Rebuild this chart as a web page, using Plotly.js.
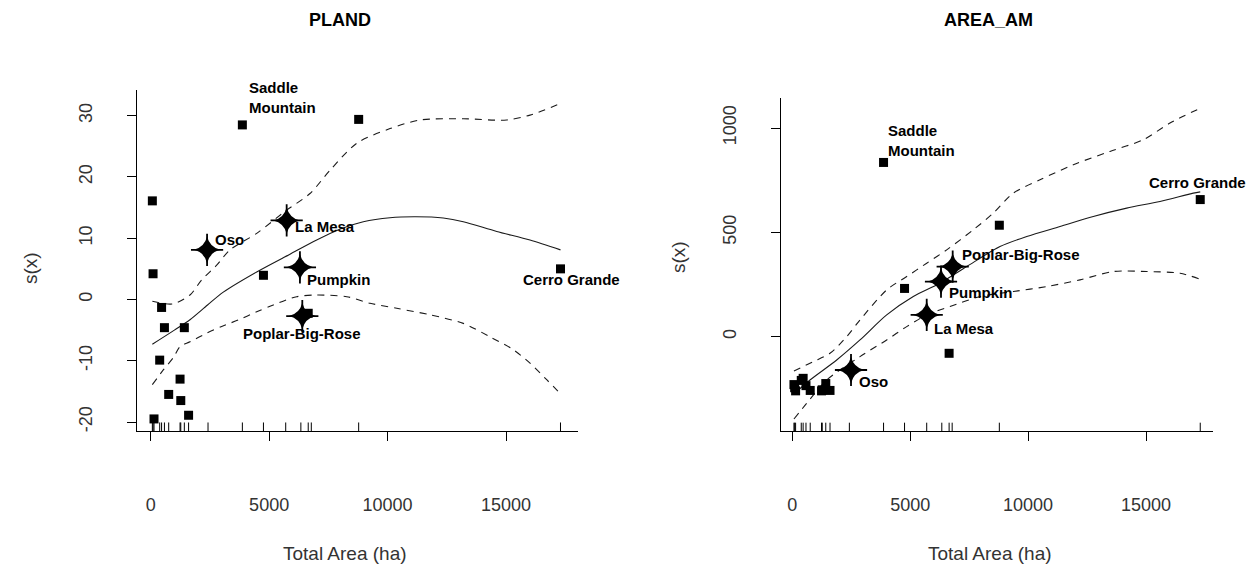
<!DOCTYPE html>
<html>
<head>
<meta charset="utf-8">
<script src="https://cdn.plot.ly/plotly-3.0.1.min.js"></script>
<style>html,body{margin:0;padding:0;background:#fff;}#chart{width:1258px;height:571px;}</style>
</head>
<body>
<div id="chart"></div>
<script>
// ---------- DATA ----------
// Total area (ha) of every site (used for squares and the rug)
const siteArea = [70, 100, 140, 380, 460, 580, 760, 1240, 1270, 1420, 1600, 3870, 4760, 6650, 8780, 17300];
const siteLabel = ["", "", "", "", "", "", "", "", "", "", "", "Saddle<br>Mountain", "", "", "", "Cerro Grande"];
const plandSite = [16.1, 4.2, -19.5, -9.9, -1.3, -4.6, -15.5, -13.0, -16.5, -4.6, -18.9, 28.5, 3.95, -2.25, 29.4, 5.0];
const areaamSite = [-230, -245, -260, -210, -200, -235, -258, -260, -255, -225, -258, 835, 231, -80, 534, 657];

// Focal sites (stars)
const focalLabel = ["Oso", "La Mesa", "Pumpkin", "Poplar-Big-Rose"];
const focalAreaRug = [2420, 5700, 6340, 6780];
const plandFocalX = [2380, 5740, 6300, 6400];
const plandFocalY = [8.1, 12.9, 5.25, -2.7];
const areaamFocalX = [2490, 5700, 6306, 6802];
const areaamFocalY = [-160, 104, 264, 336];

// PLAND smooth fit and bands
const plandFitX = [70, 1000, 1659, 2400, 3065, 4475, 5881, 7008, 8000, 8976, 10103, 11200, 12353, 13197, 14607, 16013, 17300];
const plandFitY = [-7.3, -5.0, -3.3, -0.9, 1.2, 4.5, 7.4, 9.7, 11.5, 12.7, 13.35, 13.5, 13.3, 12.7, 11.1, 9.7, 8.1];
const plandUpX = [70, 929, 1659, 2153, 2786, 3348, 4475, 5742, 6725, 7570, 8697, 10103, 11370, 13197, 15029, 16013, 17300];
const plandUpY = [-0.3, -0.73, 0.73, 3.2, 5.6, 8.1, 10.8, 14.6, 17.3, 21.1, 25.5, 27.9, 29.3, 29.5, 29.3, 30.1, 32.0];
const plandLoX = [70, 532, 954, 1237, 1659, 2364, 2997, 3698, 4475, 5176, 6164, 7008, 8275, 9258, 10386, 11792, 13197, 14325, 15308, 16013, 16718, 17300];
const plandLoY = [-13.9, -11.5, -9.5, -7.7, -6.9, -5.5, -4.4, -3.35, -2.0, -0.9, 0.46, 0.73, 0.46, -0.62, -1.44, -2.5, -3.9, -6.1, -8.2, -10.4, -13.1, -15.4];

// AREA_AM smooth fit and bands
const areaFitX = [70, 751, 1883, 2871, 4003, 5131, 6260, 7396, 8808, 9941, 11353, 12765, 14181, 15594, 17006, 17300];
const areaFitY = [-275, -208, -112, -16, 104, 192, 256, 336, 432, 480, 528, 576, 616, 648, 688, 694];
const areaUpX = [70, 891, 1599, 2307, 2871, 4003, 4852, 5700, 6548, 7676, 8524, 9372, 10505, 11917, 13473, 14885, 16018, 17300];
const areaUpY = [-165, -120, -80, 0, 80, 224, 288, 352, 416, 512, 592, 688, 752, 824, 888, 944, 1024, 1095];
const areaLoX = [70, 611, 1459, 2871, 4003, 4852, 5700, 6688, 7960, 9372, 10789, 12201, 13613, 15029, 16442, 17300];
const areaLoY = [-395, -320, -208, -96, -16, 48, 104, 144, 192, 216, 240, 272, 312, 312, 304, 275];

const xTicks = [0, 5000, 10000, 15000];
const plandTicks = [-20, -10, 0, 10, 20, 30];
const areaTicks = [0, 500, 1000];

// ---------- STYLE ----------
const W = 1258, H = 571;
const FONT = "Liberation Sans, Arial, sans-serif";
// label offsets (pixels) relative to their point: [dx, dy(up), xanchor]
const plandSiteOff = {"Saddle<br>Mountain": [5, 27, "left"], "Cerro Grande": [11, -11, "center"]};
const areaSiteOff = {"Saddle<br>Mountain": [2, 22, "left"], "Cerro Grande": [-3, 17, "center"]};
const plandFocalOff = [[6, 10, "left"], [6, -6, "left"], [5, -12, "left"], [0, -17, "center"]];
const areaFocalOff = [[6, -12, "left"], [5, -14, "left"], [6, -11, "left"], [7, 12, "left"]];

function lineTrace(x, y, xa, ya, dash) {
  return {x: x, y: y, xaxis: xa, yaxis: ya, mode: "lines", type: "scatter", hoverinfo: "skip",
    line: {color: "#1a1a1a", width: 1.1, dash: dash ? "7px,6px" : "solid", shape: "spline", smoothing: 0.8}};
}
function squares(x, y, xa, ya) {
  return {x: x, y: y, xaxis: xa, yaxis: ya, mode: "markers", type: "scatter", hoverinfo: "skip",
    marker: {symbol: "square", size: 9, color: "#000", line: {width: 0}}};
}
function starBody(x, y, xa, ya) {
  return {x: x, y: y, xaxis: xa, yaxis: ya, mode: "markers", type: "scatter", hoverinfo: "skip",
    marker: {symbol: "star-diamond", size: 19, color: "#000", line: {width: 0}}};
}
function starArms(x, y, xa, ya) {
  return {x: x, y: y, xaxis: xa, yaxis: ya, mode: "markers", type: "scatter", hoverinfo: "skip",
    marker: {symbol: "cross-thin", size: 23, color: "#000", line: {width: 1.8, color: "#000"}}};
}

const traces = [
  lineTrace(plandFitX, plandFitY, "x", "y", false),
  lineTrace(plandUpX, plandUpY, "x", "y", true),
  lineTrace(plandLoX, plandLoY, "x", "y", true),
  squares(siteArea, plandSite, "x", "y"),
  starArms(plandFocalX, plandFocalY, "x", "y"),
  starBody(plandFocalX, plandFocalY, "x", "y"),
  lineTrace(areaFitX, areaFitY, "x2", "y2", false),
  lineTrace(areaUpX, areaUpY, "x2", "y2", true),
  lineTrace(areaLoX, areaLoY, "x2", "y2", true),
  squares(siteArea, areaamSite, "x2", "y2"),
  starArms(areaamFocalX, areaamFocalY, "x2", "y2"),
  starBody(areaamFocalX, areaamFocalY, "x2", "y2")
];

// rug
const rugX = siteArea.concat(focalAreaRug);
const shapes = [];
rugX.forEach(function (v) {
  shapes.push({type: "line", xref: "x", yref: "y domain", x0: v, x1: v, y0: 0, y1: 0.025, line: {color: "#000", width: 1}});
  shapes.push({type: "line", xref: "x2", yref: "y2 domain", x0: v, x1: v, y0: 0, y1: 0.025, line: {color: "#000", width: 1}});
});

// labels
const annotations = [];
function addLabel(text, x, y, xr, yr, off) {
  annotations.push({text: "<b>" + text + "</b>", x: x, y: y, xref: xr, yref: yr, showarrow: false,
    xanchor: off[2], yanchor: "middle", xshift: off[0], yshift: off[1], align: "left",
    font: {family: FONT, size: 15, color: "#000"}});
}
siteLabel.forEach(function (t, i) {
  if (!t) return;
  addLabel(t, siteArea[i], plandSite[i], "x", "y", plandSiteOff[t]);
  addLabel(t, siteArea[i], areaamSite[i], "x2", "y2", areaSiteOff[t]);
});
focalLabel.forEach(function (t, i) {
  addLabel(t, plandFocalX[i], plandFocalY[i], "x", "y", plandFocalOff[i]);
  addLabel(t, areaamFocalX[i], areaamFocalY[i], "x2", "y2", areaFocalOff[i]);
});
// titles
function paperText(text, px, py, size, angle, bold) {
  annotations.push({text: bold ? "<b>" + text + "</b>" : text, x: px / W, y: 1 - py / H, xref: "paper", yref: "paper",
    showarrow: false, xanchor: "center", yanchor: "middle", textangle: angle || 0,
    font: {family: FONT, size: size, color: bold ? "#000" : "#333"}});
}
paperText("PLAND", 340, 20, 18, 0, true);
paperText("AREA_AM", 988, 20, 18, 0, true);
paperText("Total Area (ha)", 345, 553, 19, 0, false);
paperText("Total Area (ha)", 990, 553, 19, 0, false);
paperText("s(x)", 30, 268, 19, -90, false);
paperText("s(x)", 678, 257, 19, -90, false);

const tickFont = {family: FONT, size: 18, color: "#333"};
function xAxis(domain, range, anchor) {
  return {domain: domain, range: range, anchor: anchor, tickvals: xTicks, ticktext: xTicks.map(String),
    ticks: "outside", ticklen: 9, tickwidth: 1, tickcolor: "#000", showline: true, linecolor: "#000", linewidth: 1,
    showgrid: false, zeroline: false, tickfont: tickFont, ticklabelstandoff: 48, fixedrange: true};
}
function yAxis(domain, range, anchor, tv) {
  return {domain: domain, range: range, anchor: anchor, tickvals: tv, ticktext: tv.map(String), tickangle: -90,
    ticks: "outside", ticklen: 9, tickwidth: 1, tickcolor: "#000", showline: true, linecolor: "#000", linewidth: 1,
    showgrid: false, zeroline: false, tickfont: tickFont, ticklabelstandoff: 28, fixedrange: true};
}

const layout = {
  width: W, height: H, margin: {l: 0, r: 0, t: 0, b: 0},
  paper_bgcolor: "#fff", plot_bgcolor: "#fff", showlegend: false,
  font: {family: FONT},
  xaxis: xAxis([137 / W, 578 / W], [-578, 18039], "y"),
  yaxis: yAxis([1 - 431 / H, 1 - 90 / H], [-21.47, 34.2], "x", plandTicks),
  xaxis2: xAxis([781 / W, 1213 / W], [-479, 17841], "y2"),
  yaxis2: yAxis([1 - 431 / H, 1 - 98 / H], [-452.5, 1144], "x2", areaTicks),
  shapes: shapes,
  annotations: annotations
};

Plotly.newPlot("chart", traces, layout, {staticPlot: true, displayModeBar: false});
</script>
</body>
</html>
